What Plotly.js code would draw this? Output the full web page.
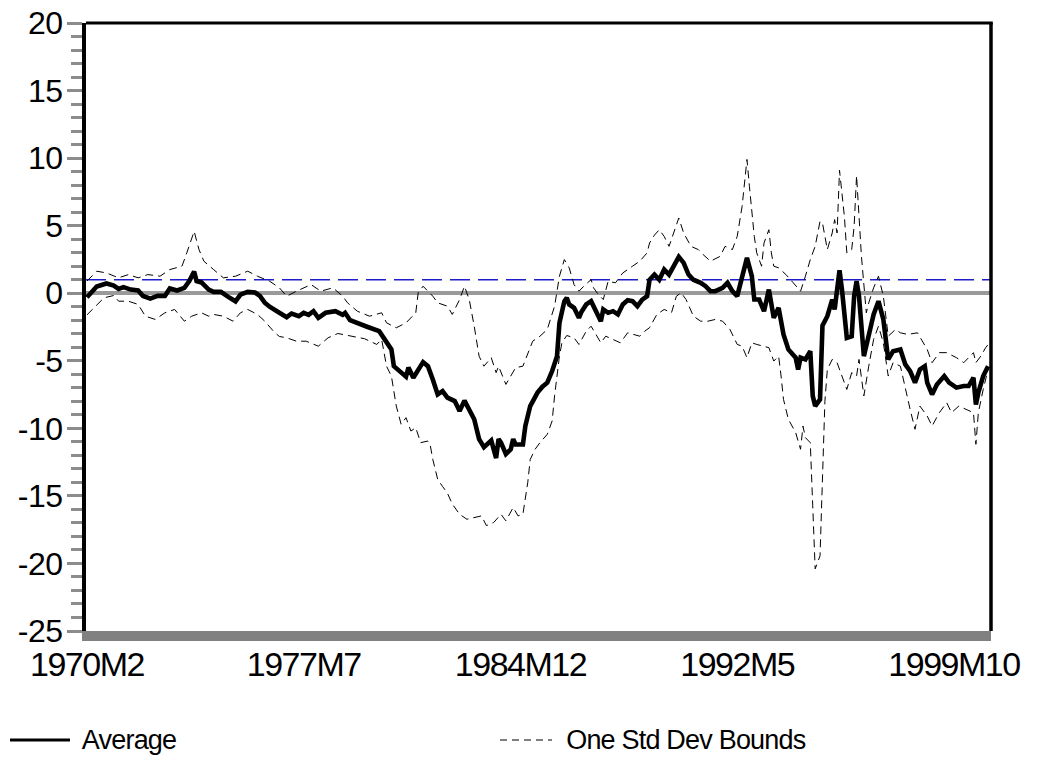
<!DOCTYPE html>
<html>
<head>
<meta charset="utf-8">
<script src="https://cdn.plot.ly/plotly-3.0.1.min.js"></script>
<style>
  html, body { margin: 0; padding: 0; background: #fff; }
  #chart { width: 1039px; height: 775px; }
  #chart .xtick text { letter-spacing: -1.5px; }
  #chart .ytick text { letter-spacing: -0.5px; }
  #chart .annotation-text { letter-spacing: -0.8px; }
</style>
</head>
<body>
<div id="chart"></div>
<script>
// ---- Data (observation index: months since 1970M2) ----
var xTickLabels = ["1970M2", "1977M7", "1984M12", "1992M5", "1999M10"];
var yTickValues = [-25, -20, -15, -10, -5, 0, 5, 10, 15, 20];
var yTickLabels = ["-25", "-20", "-15", "-10", "-5", "0", "5", "10", "15", "20"];
var seriesNames = ["Average", "One Std Dev Bounds"];
var refLevel = 1;

var avgObs = [0,2,4,8,11,13,15,18,21,23,26,29,32,34,37,40,42,44,45,47,49,50,52,55,58,61,63,66,69,71,73,75,78,82,84,87,89,91,93,95,98,102,105,106,108,111,115,120,123,125,126,129,131,132,134,138,140,142,144,146,148,151,153,155,157,159,161,163,166,168,169,170,172,174,175,176,179,180,182,185,187,189,191,193,194,196,197,198,200,202,203,205,207,208,209,211,212,214,216,218,220,222,224,226,228,230,231,233,235,237,239,241,243,245,247,249,252,254,256,258,261,263,265,267,269,271,273,274,276,278,280,281,282,284,285,286,288,291,292,293,295,297,298,299,301,302,304,306,307,309,310,312,314,315,316,317,319,321,323,325,327,329,331,334,336,338,340,342,344,345,347,349,352,354,357,360,362,364,365,366,368,370];
var avgVal = [-0.3,0.15,0.5,0.72,0.57,0.32,0.45,0.27,0.2,-0.2,-0.4,-0.2,-0.2,0.35,0.2,0.4,0.9,1.6,0.9,0.8,0.5,0.27,0.1,0.1,-0.27,-0.6,-0.1,0.1,0.05,-0.2,-0.7,-1.0,-1.33,-1.77,-1.5,-1.7,-1.45,-1.6,-1.33,-1.82,-1.45,-1.33,-1.6,-1.45,-2.0,-2.24,-2.48,-2.81,-3.55,-4.16,-5.4,-5.93,-6.18,-5.5,-6.25,-5.1,-5.4,-6.38,-7.49,-7.24,-7.73,-7.98,-8.72,-7.95,-8.6,-9.33,-10.8,-11.4,-10.9,-12.2,-10.8,-11.06,-11.9,-11.55,-10.8,-11.2,-11.2,-9.83,-8.35,-7.36,-6.92,-6.62,-5.76,-4.66,-2.2,-0.6,-0.34,-0.83,-1.08,-1.82,-1.4,-0.83,-0.59,-0.96,-1.45,-2.07,-1.2,-1.45,-1.33,-1.57,-0.83,-0.52,-0.59,-0.96,-0.47,-0.22,1.0,1.38,1.0,1.75,1.38,2.0,2.69,2.25,1.38,1.0,0.77,0.52,0.15,0.15,0.4,0.77,0.15,-0.22,1.26,2.62,1.26,-0.47,-0.47,-1.33,0.27,-0.7,-1.82,-1.08,-2.19,-3.05,-4.16,-4.77,-5.64,-4.77,-4.9,-4.29,-7.6,-8.35,-7.86,-2.4,-1.7,-0.47,-1.2,1.7,0.27,-3.3,-3.18,-0.22,0.89,-0.22,-4.66,-3.18,-1.57,-0.59,-1.94,-4.9,-4.29,-4.16,-5.27,-5.76,-6.62,-5.64,-5.4,-6.62,-7.49,-6.75,-6.13,-6.62,-6.99,-6.87,-6.87,-6.25,-8.23,-7.36,-6.13,-5.4];

var upObs = [0,4,8,13,17,21,25,30,34,39,41,44,46,48,52,56,61,66,70,75,79,82,86,92,96,101,105,107,111,116,121,123,127,131,135,136,138,142,144,148,150,153,155,157,159,161,163,166,168,169,172,174,176,179,181,183,186,189,192,194,196,198,200,202,204,207,208,210,212,214,217,220,224,227,230,231,233,235,237,239,243,245,248,251,253,256,260,262,265,267,269,271,272,274,275,277,278,280,281,282,284,287,290,293,295,297,299,301,302,304,306,307,308,309,311,312,314,315,316,318,320,321,323,325,327,329,332,334,337,341,345,347,350,353,357,360,362,364,365,367,369,370];
var upVal = [0.9,1.63,1.5,1.14,1.38,1.14,1.38,1.26,1.75,2.0,2.99,4.58,3.23,2.37,1.75,1.14,1.26,1.63,1.26,0.89,0.4,-0.22,0.15,0.64,0.15,0.4,-0.22,-0.71,-1.33,-1.7,-1.45,-2.19,-2.56,-2.19,-1.45,0.03,0.52,-0.22,-0.71,-0.96,-1.57,-0.47,0.52,-0.5,-2.44,-4.66,-5.4,-4.77,-5.88,-5.4,-6.75,-6.13,-5.51,-5.4,-4.4,-3.55,-3.18,-2.68,-0.96,1.26,2.49,1.88,0.64,0.15,0.52,1.01,0.4,-0.1,-0.47,0.89,0.77,1.5,2.0,2.37,2.99,3.72,4.3,4.7,4.21,3.47,5.57,4.46,3.47,3.23,2.86,2.37,2.73,3.47,3.23,4.21,6.43,9.9,7.91,4.21,2.99,2.0,3.72,4.7,2.99,2.0,1.88,1.38,0.77,0.15,1.26,2.49,3.47,5.32,5.2,3.23,4.46,5.45,4.46,9.1,5.69,2.99,3.23,4.95,8.7,2.73,-1.45,-0.71,0.4,1.26,-0.22,-3.18,-2.68,-2.93,-3.05,-2.93,-4.16,-5.14,-4.4,-4.4,-4.77,-5.14,-4.77,-4.4,-5.14,-4.66,-4.03,-3.8];

var loObs = [0,3,7,11,13,17,21,24,28,32,36,40,43,47,50,52,56,60,63,66,70,73,77,79,82,86,90,95,99,103,109,114,119,121,123,125,127,129,131,133,135,137,140,141,142,144,146,148,150,153,156,159,162,164,167,170,172,175,177,179,181,182,184,186,189,191,192,194,195,197,200,202,205,207,209,211,213,216,219,222,224,227,229,231,234,237,240,242,244,246,249,252,255,258,261,264,267,269,271,273,275,278,280,282,284,285,286,288,291,293,294,295,297,298,299,301,302,303,304,306,308,310,312,314,316,317,319,321,323,325,327,329,331,334,336,338,340,342,345,347,350,353,355,358,361,364,365,366,368,370];
var loVal = [-1.6,-1.08,-0.34,-0.17,-0.59,-0.59,-0.83,-1.7,-1.94,-1.45,-1.2,-2.07,-1.7,-1.45,-1.7,-1.57,-1.7,-2.07,-1.45,-1.2,-1.57,-2.07,-2.9,-3.2,-3.3,-3.55,-3.55,-3.92,-3.3,-2.98,-3.22,-3.37,-3.79,-3.42,-5.4,-6.13,-8.35,-9.7,-9.21,-10.2,-9.95,-11.06,-10.94,-11.3,-12.3,-13.77,-14.3,-14.8,-15.6,-16.36,-16.73,-16.6,-16.48,-17.2,-16.97,-16.36,-16.85,-15.86,-16.48,-16.36,-14.0,-12.3,-11.55,-11.06,-10.44,-9.46,-7.6,-4.66,-3.67,-3.13,-3.3,-3.79,-2.81,-2.44,-3.05,-3.67,-3.18,-3.42,-3.67,-2.93,-3.05,-3.18,-2.81,-2.55,-1.57,-1.2,-1.45,-0.22,0.03,-0.47,-1.7,-2.07,-2.07,-1.94,-2.07,-2.68,-3.79,-3.92,-4.77,-3.67,-3.79,-3.92,-4.03,-5.02,-4.66,-6.13,-7.86,-9.33,-10.32,-11.55,-9.83,-10.69,-11.06,-15.74,-20.4,-19.44,-13.27,-8.0,-5.64,-4.9,-5.14,-6.13,-7.12,-5.88,-6.13,-4.9,-7.6,-5.4,-3.42,-2.44,-3.67,-6.13,-5.14,-5.4,-7.12,-8.6,-10.07,-8.35,-9.09,-9.83,-8.84,-8.1,-8.84,-8.35,-8.6,-8.84,-11.18,-8.84,-7.12,-5.64];

// month label -> observation index (months since 1970M2)
function obsIndex(label) {
  var p = label.split("M");
  return (parseInt(p[0], 10) - 1970) * 12 + (parseInt(p[1], 10) - 2);
}
var xTickValues = xTickLabels.map(obsIndex);

var FONT = "'Liberation Sans', Arial, Helvetica, sans-serif";
var LEG_Y = (631 - 740) / 608;

var traces = [
  { x: upObs, y: upVal, type: "scatter", mode: "lines", name: seriesNames[1],
    line: { color: "#000000", width: 1, dash: "8px,5px" }, showlegend: false, hoverinfo: "skip" },
  { x: loObs, y: loVal, type: "scatter", mode: "lines", name: seriesNames[1],
    line: { color: "#000000", width: 1, dash: "8px,5px" }, showlegend: false, hoverinfo: "skip" },
  { x: avgObs, y: avgVal, type: "scatter", mode: "lines", name: seriesNames[0],
    line: { color: "#000000", width: 4.6 }, showlegend: false, hoverinfo: "skip" }
];

var layout = {
  width: 1039, height: 775,
  margin: { l: 86, r: 48, t: 23, b: 144 },
  paper_bgcolor: "#ffffff", plot_bgcolor: "#ffffff",
  font: { family: FONT, color: "#000000", size: 30 },
  showlegend: false,
  xaxis: {
    range: [-0.4, 371.2],
    tickvals: xTickValues, ticktext: xTickLabels,
    ticks: "", showgrid: false, zeroline: false,
    showline: true, linecolor: "#808080", linewidth: 10,
    tickfont: { family: FONT, size: 34, color: "#000000" },
    ticklabelstandoff: -6,
    fixedrange: true
  },
  yaxis: {
    range: [-25, 20],
    tickvals: yTickValues, ticktext: yTickLabels,
    ticks: "outside", ticklen: 15, tickwidth: 3, tickcolor: "#8c8c8c",
    minor: { dtick: 1, ticks: "outside", ticklen: 11, tickwidth: 3, tickcolor: "#8c8c8c", showgrid: false },
    showgrid: false,
    zeroline: true, zerolinecolor: "#9a9a9a", zerolinewidth: 4,
    showline: true, linecolor: "#000000", linewidth: 4,
    tickfont: { family: FONT, size: 32, color: "#000000" },
    ticklabelstandoff: -2,
    fixedrange: true
  },
  shapes: [
    { type: "line", xref: "paper", yref: "y", x0: 0, x1: 1, y0: refLevel, y1: refLevel,
      line: { color: "#1c1cc8", width: 1.5, dash: "20px,8px" }, layer: "below" },
    { type: "line", xref: "paper", yref: "paper", x0: 0, x1: 1.002, y0: 1, y1: 1,
      line: { color: "#000000", width: 3 }, layer: "above" },
    { type: "line", xref: "paper", yref: "paper", x0: 1, x1: 1, y0: 0, y1: 1,
      line: { color: "#000000", width: 3.5 }, layer: "above" },
    // legend samples
    { type: "line", xref: "paper", yref: "paper",
      x0: (10 - 86) / 905, x1: (70 - 86) / 905, y0: LEG_Y, y1: LEG_Y,
      line: { color: "#000000", width: 3 } },
    { type: "line", xref: "paper", yref: "paper",
      x0: (500 - 86) / 905, x1: (552 - 86) / 905, y0: LEG_Y, y1: LEG_Y,
      line: { color: "#000000", width: 1, dash: "7px,5px" } }
  ],
  annotations: [
    { xref: "paper", yref: "paper", x: (77 - 86) / 905, y: LEG_Y,
      xanchor: "left", yanchor: "middle", showarrow: false, text: seriesNames[0],
      font: { family: FONT, size: 27, color: "#000000" } },
    { xref: "paper", yref: "paper", x: (557 - 86) / 905, y: LEG_Y,
      xanchor: "left", yanchor: "middle", showarrow: false, text: seriesNames[1],
      font: { family: FONT, size: 27, color: "#000000" } }
  ]
};

Plotly.newPlot("chart", traces, layout, { staticPlot: true, displayModeBar: false });
</script>
</body>
</html>
